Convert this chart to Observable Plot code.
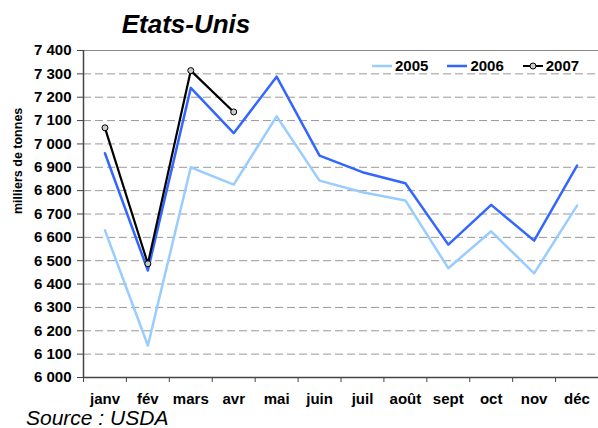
<!DOCTYPE html>
<html>
<head>
<meta charset="utf-8">
<script src="https://cdn.jsdelivr.net/npm/d3@7"></script>
<script src="https://cdn.jsdelivr.net/npm/@observablehq/plot@0.6"></script>
<style>
  html, body { margin: 0; padding: 0; background: #fff; overflow: hidden; }
  body { width: 598px; height: 428px; position: relative; font-family: "Liberation Sans", Arial, sans-serif; }
  #title { position: absolute; left: 0; width: 372px; top: 8px; text-align: center; font-size: 26px; font-weight: bold; font-style: italic; line-height: 32px; }
  #source { position: absolute; left: 26px; top: 409px; font-size: 21px; font-style: italic; line-height: 18px; }
  #legend { position: absolute; left: 372px; top: 57px; font-size: 15px; font-weight: bold; display: flex; align-items: center; line-height: 18px; }
  #legend .item { display: flex; align-items: center; margin-right: 19px; }
  #legend svg { margin-right: 3px; }
  #chart { position: absolute; left: 0; top: 0; }
</style>
</head>
<body>
<div id="chart"></div>
<div id="title">Etats-Unis</div>
<div id="legend"></div>
<div id="source">Source : USDA</div>
<script>
const months = ["janv", "fév", "mars", "avr", "mai", "juin", "juil", "août", "sept", "oct", "nov", "déc"];
const values2005 = [6630, 6137, 6900, 6826, 7118, 6843, 6793, 6758, 6468, 6626, 6446, 6736];
const values2006 = [6960, 6458, 7240, 7046, 7288, 6950, 6879, 6832, 6569, 6739, 6586, 6907];
const values2007 = [7069, 6487, 7314, 7137];
const yTicks = d3.range(6000, 7401, 100);
const seriesNames = ["2005", "2006", "2007"];
const seriesColors = ["#99ccff", "#3366ff", "#000000"];

const fmt = d => d3.format(",")(d).replace(",", " ");
const idx = (d, i) => i;

const plot = Plot.plot({
  width: 598,
  height: 428,
  marginTop: 50,
  marginBottom: 51,
  marginLeft: 83,
  marginRight: 0,
  style: { fontFamily: "'Liberation Sans', Arial, sans-serif", background: "white", color: "black", overflow: "visible" },
  x: { type: "linear", domain: [-0.5, 11.5] },
  y: { domain: [6000, 7400] },
  marks: [
    Plot.gridY(yTicks.filter(t => t > 6000 && t < 7400), { stroke: "#999", strokeOpacity: 1, strokeDasharray: "8,4" }),
    Plot.ruleY([7400], { stroke: "#888", strokeWidth: 1 }),
    Plot.axisY(yTicks, { tickFormat: fmt, tickSize: 6, tickPadding: 6, fontSize: 15, fontWeight: "bold", stroke: "#444", fill: "black", label: null }),
    Plot.axisX(d3.range(-0.5, 12, 1), { tickSize: 5, tickFormat: () => "", stroke: "#444", label: null }),
    Plot.axisX(d3.range(0, 12), { tickSize: 0, tickPadding: 16, tickFormat: i => months[i], fontSize: 15, fontWeight: "bold", fill: "black", label: null }),
    Plot.ruleX([-0.5], { y1: 6000, y2: 7400, stroke: "#444", strokeWidth: 1.5 }),
    Plot.ruleY([6000], { stroke: "#444", strokeWidth: 1.5 }),
    Plot.text(["milliers de tonnes"], { frameAnchor: "left", text: d => d, rotate: -90, dx: -66, fontSize: 12.5, fontWeight: "bold", fill: "black" }),
    Plot.line(values2005, { x: idx, y: d => d, stroke: seriesColors[0], strokeWidth: 2.5 }),
    Plot.line(values2006, { x: idx, y: d => d, stroke: seriesColors[1], strokeWidth: 2.5 }),
    Plot.line(values2007, { x: idx, y: d => d, stroke: seriesColors[2], strokeWidth: 2.2 }),
    Plot.dot(values2007, { x: idx, y: d => d, r: 3, fill: "#ccc", stroke: "black", strokeWidth: 1 })
  ]
});
document.getElementById("chart").appendChild(plot);

const legend = document.getElementById("legend");
seriesNames.forEach((name, k) => {
  const item = document.createElement("div");
  item.className = "item";
  const marker = k === 2 ? `<circle cx="10" cy="5" r="3" fill="#ccc" stroke="black" stroke-width="1"/>` : "";
  item.innerHTML = `<svg width="20" height="10"><line x1="0" x2="20" y1="5" y2="5" stroke="${seriesColors[k]}" stroke-width="${k === 2 ? 2 : 2.5}"/>${marker}</svg><span>${name}</span>`;
  legend.appendChild(item);
});
</script>
</body>
</html>
